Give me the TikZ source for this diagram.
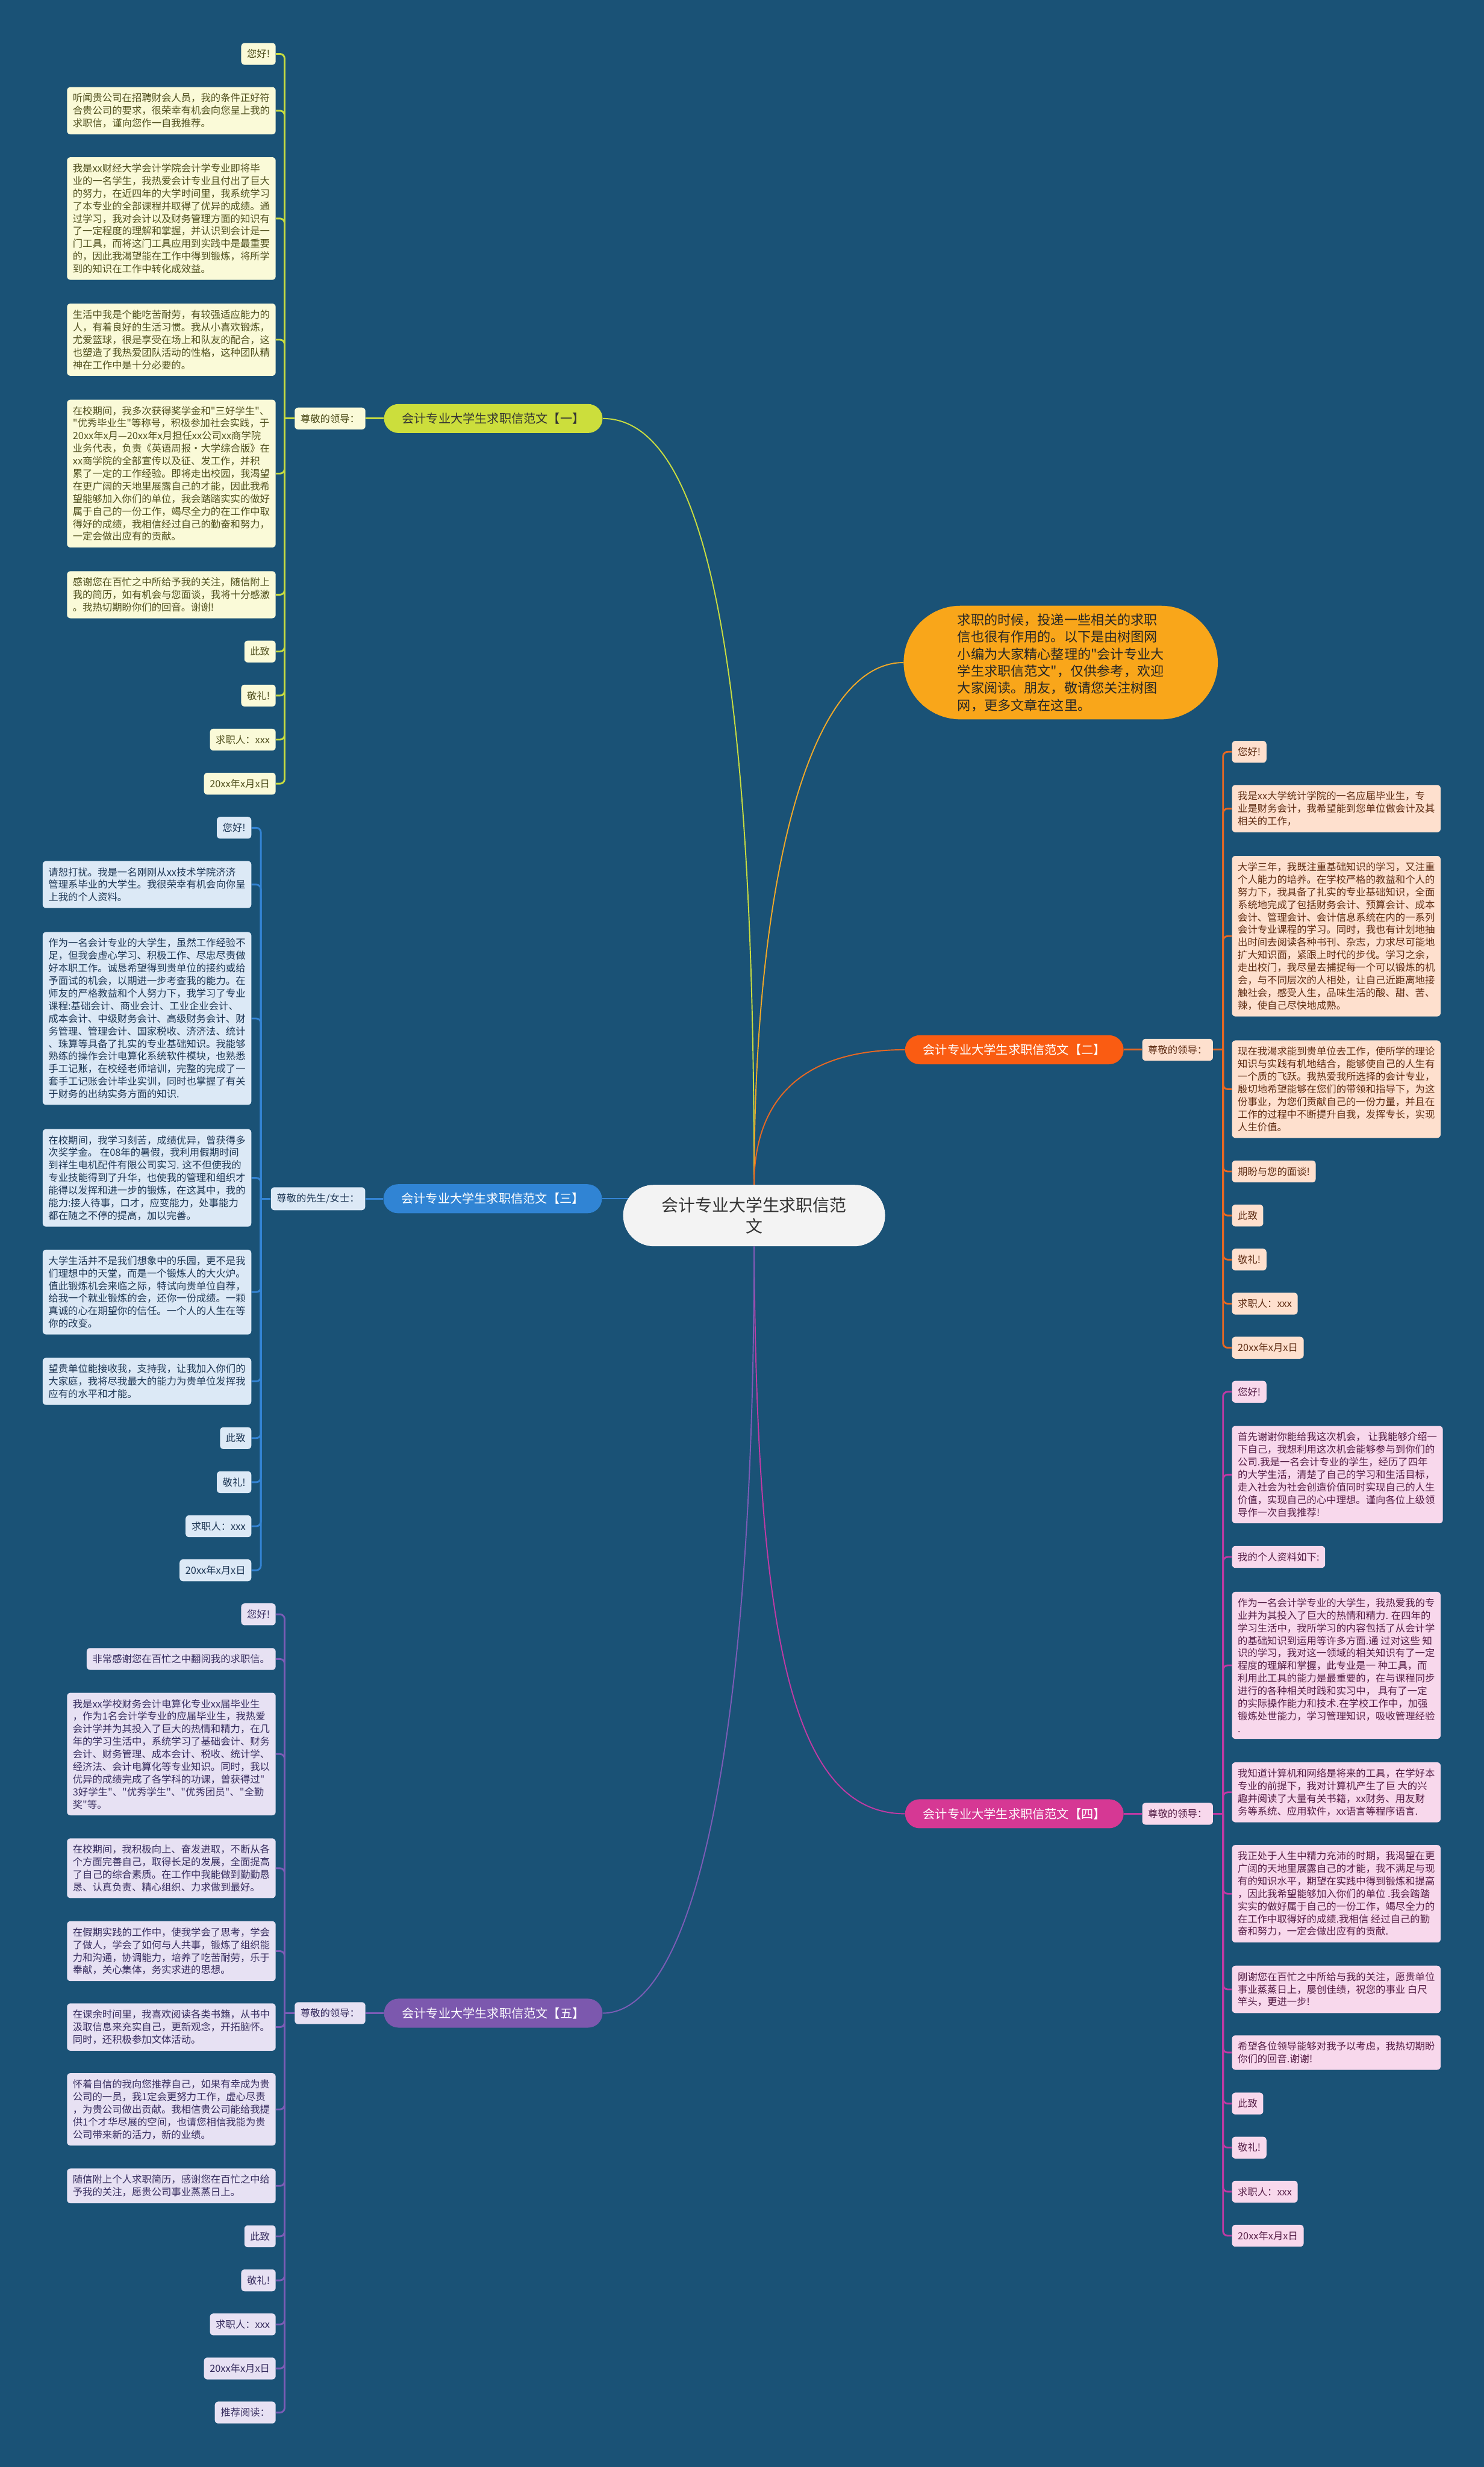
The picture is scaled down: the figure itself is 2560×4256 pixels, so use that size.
\documentclass[tikz,border=0pt]{standalone}
\usepackage{fontspec}
\setmainfont{Noto Sans CJK SC}[Ligatures=TeXOff]
\usetikzlibrary{backgrounds}
\definecolor{bgblue}{RGB}{26,82,118}
\definecolor{rootfill}{RGB}{243,243,243}
\definecolor{introfill}{RGB}{249,166,26}
\definecolor{brA}{RGB}{204,222,60}
\definecolor{brB}{RGB}{250,92,18}
\definecolor{brC}{RGB}{48,132,212}
\definecolor{brD}{RGB}{214,56,148}
\definecolor{brE}{RGB}{124,88,174}
\definecolor{fillA}{RGB}{250,250,216}
\definecolor{fillB}{RGB}{254,224,206}
\definecolor{fillC}{RGB}{220,233,246}
\definecolor{fillD}{RGB}{248,216,236}
\definecolor{fillE}{RGB}{231,225,243}
\definecolor{txtA}{RGB}{80,80,30}
\definecolor{txtB}{RGB}{95,45,20}
\definecolor{txtC}{RGB}{30,55,85}
\definecolor{txtD}{RGB}{85,30,70}
\definecolor{txtE}{RGB}{55,45,95}
\definecolor{lnA}{RGB}{200,220,64}
\definecolor{lnB}{RGB}{232,104,34}
\definecolor{lnC}{RGB}{52,132,212}
\definecolor{lnD}{RGB}{192,58,164}
\definecolor{lnE}{RGB}{124,92,182}
\definecolor{lnI}{RGB}{240,168,40}
\newcommand{\leaffont}{\fontsize{8.5pt}{10.85pt}\selectfont}
\newcommand{\branchfont}{\fontsize{10.5pt}{12pt}\selectfont}
\tikzstyle{leaf} = [rounded corners=3pt, inner xsep=5pt, inner ysep=5.5pt, align=left, font=\leaffont]
\tikzstyle{leafA} = [leaf, fill=fillA, text=txtA]
\tikzstyle{leafB} = [leaf, fill=fillB, text=txtB]
\tikzstyle{leafC} = [leaf, fill=fillC, text=txtC]
\tikzstyle{leafD} = [leaf, fill=fillD, text=txtD]
\tikzstyle{leafE} = [leaf, fill=fillE, text=txtE]
\tikzstyle{branch} = [rounded corners=12.5pt, minimum width=188.5pt, minimum height=25pt, inner xsep=10pt, font=\branchfont]
\tikzstyle{stub} = [line width=1.5pt, rounded corners=4pt]
\tikzstyle{curve} = [line width=1pt]

\begin{document}
\begin{tikzpicture}[x=0.5pt, y=-0.5pt]
\useasboundingbox (0,0) rectangle (2560,4256);

% centre and intro
\node[fill=rootfill, text=black!80, rounded corners=26.5pt, minimum width=226pt, minimum height=53pt, align=center, font=\fontsize{14.5pt}{18pt}\selectfont] (root) at (1301,2097) {会计专业大学生求职信范\\文};
\node[fill=introfill, text=black!85, rounded corners=49pt, minimum width=271pt, minimum height=98pt, align=left, font=\fontsize{11.5pt}{14.75pt}\selectfont] (intro) at (1830,1143) {求职的时候，投递一些相关的求职\\信也很有作用的。以下是由树图网\\小编为大家精心整理的"会计专业大\\学生求职信范文"，仅供参考，欢迎\\大家阅读。朋友，敬请您关注树图\\网，更多文章在这里。};

% branches
\node[branch, fill=brA, text=black!80] (br1) at (851,722) {会计专业大学生求职信范文【一】};
\node[branch, fill=brB, text=white] (br2) at (1750,1811) {会计专业大学生求职信范文【二】};
\node[branch, fill=brC, text=white] (br3) at (850,2068) {会计专业大学生求职信范文【三】};
\node[branch, fill=brD, text=white] (br4) at (1750,3129) {会计专业大学生求职信范文【四】};
\node[branch, fill=brE, text=white] (br5) at (851,3473) {会计专业大学生求职信范文【五】};

\node[leafA, anchor=west] (lead1) at (508,722) {尊敬的领导：};
\node[leafB, anchor=east] (lead2) at (2093,1811) {尊敬的领导：};
\node[leafC, anchor=west] (lead3) at (467,2068) {尊敬的先生/女士：};
\node[leafD, anchor=east] (lead4) at (2093,3129) {尊敬的领导：};
\node[leafE, anchor=west] (lead5) at (508,3473) {尊敬的领导：};

\coordinate (j1) at (491,722);
\coordinate (j2) at (2110,1811);
\coordinate (j3) at (450,2068);
\coordinate (j4) at (2110,3129);
\coordinate (j5) at (491,3473);

% letter one
\node[leafA, anchor=east] (a1) at (476,93) {您好!};
\node[leafA, anchor=east] (a2) at (476,191) {听闻贵公司在招聘财会人员，我的条件正好符\\合贵公司的要求，很荣幸有机会向您呈上我的\\求职信，谨向您作一自我推荐。};
\node[leafA, anchor=east] (a3) at (476,377) {我是xx财经大学会计学院会计学专业即将毕\\业的一名学生，我热爱会计专业且付出了巨大\\的努力，在近四年的大学时间里，我系统学习\\了本专业的全部课程并取得了优异的成绩。通\\过学习，我对会计以及财务管理方面的知识有\\了一定程度的理解和掌握，并认识到会计是一\\门工具，而将这门工具应用到实践中是最重要\\的，因此我渴望能在工作中得到锻炼，将所学\\到的知识在工作中转化成效益。};
\node[leafA, anchor=east] (a4) at (476,586) {生活中我是个能吃苦耐劳，有较强适应能力的\\人，有着良好的生活习惯。我从小喜欢锻炼，\\尤爱篮球，很是享受在场上和队友的配合，这\\也塑造了我热爱团队活动的性格，这种团队精\\神在工作中是十分必要的。};
\node[leafA, anchor=east] (a5) at (476,817) {在校期间，我多次获得奖学金和"三好学生"、\\"优秀毕业生"等称号，积极参加社会实践，于\\20xx年x月—20xx年x月担任xx公司xx商学院\\业务代表，负责《英语周报·大学综合版》在\\xx商学院的全部宣传以及征、发工作，并积\\累了一定的工作经验。即将走出校园，我渴望\\在更广阔的天地里展露自己的才能，因此我希\\望能够加入你们的单位，我会踏踏实实的做好\\属于自己的一份工作，竭尽全力的在工作中取\\得好的成绩，我相信经过自己的勤奋和努力，\\一定会做出应有的贡献。};
\node[leafA, anchor=east] (a6) at (476,1026) {感谢您在百忙之中所给予我的关注，随信附上\\我的简历，如有机会与您面谈，我将十分感激\\。我热切期盼你们的回音。谢谢!};
\node[leafA, anchor=east] (a7) at (476,1124) {此致};
\node[leafA, anchor=east] (a8) at (476,1200) {敬礼!};
\node[leafA, anchor=east] (a9) at (476,1276) {求职人：xxx};
\node[leafA, anchor=east] (a10) at (476,1352) {20xx年x月x日};

% letter two
\node[leafB, anchor=west] (b1) at (2125,1297) {您好!};
\node[leafB, anchor=west] (b2) at (2125,1395) {我是xx大学统计学院的一名应届毕业生，专\\业是财务会计，我希望能到您单位做会计及其\\相关的工作，};
\node[leafB, anchor=west] (b3) at (2125,1615) {大学三年，我既注重基础知识的学习，又注重\\个人能力的培养。在学校严格的教益和个人的\\努力下，我具备了扎实的专业基础知识，全面\\系统地完成了包括财务会计、预算会计、成本\\会计、管理会计、会计信息系统在内的一系列\\会计专业课程的学习。同时，我也有计划地抽\\出时间去阅读各种书刊、杂志，力求尽可能地\\扩大知识面，紧跟上时代的步伐。学习之余，\\走出校门，我尽量去捕捉每一个可以锻炼的机\\会，与不同层次的人相处，让自己近距离地接\\触社会，感受人生，品味生活的酸、甜、苦、\\辣，使自己尽快地成熟。};
\node[leafB, anchor=west] (b4) at (2125,1879) {现在我渴求能到贵单位去工作，使所学的理论\\知识与实践有机地结合，能够使自己的人生有\\一个质的飞跃。我热爱我所选择的会计专业，\\殷切地希望能够在您们的带领和指导下，为这\\份事业，为您们贡献自己的一份力量，并且在\\工作的过程中不断提升自我，发挥专长，实现\\人生价值。};
\node[leafB, anchor=west] (b5) at (2125,2021) {期盼与您的面谈!};
\node[leafB, anchor=west] (b6) at (2125,2097) {此致};
\node[leafB, anchor=west] (b7) at (2125,2173) {敬礼!};
\node[leafB, anchor=west] (b8) at (2125,2249) {求职人：xxx};
\node[leafB, anchor=west] (b9) at (2125,2325) {20xx年x月x日};

% letter three
\node[leafC, anchor=east] (c1) at (434,1428) {您好!};
\node[leafC, anchor=east] (c2) at (434,1526) {请恕打扰。我是一名刚刚从xx技术学院济济\\管理系毕业的大学生。我很荣幸有机会向你呈\\上我的个人资料。};
\node[leafC, anchor=east] (c3) at (434,1757) {作为一名会计专业的大学生，虽然工作经验不\\足，但我会虚心学习、积极工作、尽忠尽责做\\好本职工作。诚恳希望得到贵单位的接约或给\\予面试的机会，以期进一步考查我的能力。在\\师友的严格教益和个人努力下，我学习了专业\\课程:基础会计、商业会计、工业企业会计、\\成本会计、中级财务会计、高级财务会计、财\\务管理、管理会计、国家税收、济济法、统计\\、珠算等具备了扎实的专业基础知识。我能够\\熟练的操作会计电算化系统软件模块，也熟悉\\手工记账，在校经老师培训，完整的完成了一\\套手工记账会计毕业实训，同时也掌握了有关\\于财务的出纳实务方面的知识.};
\node[leafC, anchor=east] (c4) at (434,2032) {在校期间，我学习刻苦，成绩优异，曾获得多\\次奖学金。 在08年的暑假，我利用假期时间\\到祥生电机配件有限公司实习. 这不但使我的\\专业技能得到了升华，也使我的管理和组织才\\能得以发挥和进一步的锻炼，在这其中，我的\\能力:接人待事，口才，应变能力，处事能力\\都在随之不停的提高，加以完善。};
\node[leafC, anchor=east] (c5) at (434,2229) {大学生活并不是我们想象中的乐园，更不是我\\们理想中的天堂，而是一个锻炼人的大火炉。\\值此锻炼机会来临之际，特试向贵单位自荐，\\给我一个就业锻炼的会，还你一份成绩。一颗\\真诚的心在期望你的信任。一个人的人生在等\\你的改变。};
\node[leafC, anchor=east] (c6) at (434,2383) {望贵单位能接收我，支持我，让我加入你们的\\大家庭，我将尽我最大的能力为贵单位发挥我\\应有的水平和才能。};
\node[leafC, anchor=east] (c7) at (434,2481) {此致};
\node[leafC, anchor=east] (c8) at (434,2557) {敬礼!};
\node[leafC, anchor=east] (c9) at (434,2633) {求职人：xxx};
\node[leafC, anchor=east] (c10) at (434,2709) {20xx年x月x日};

% letter four
\node[leafD, anchor=west] (d1) at (2125,2401) {您好!};
\node[leafD, anchor=west] (d2) at (2125,2544) {首先谢谢你能给我这次机会， 让我能够介绍一\\下自己，我想利用这次机会能够参与到你们的\\公司.我是一名会计专业的学生，经历了四年\\的大学生活，清楚了自己的学习和生活目标，\\走入社会为社会创造价值同时实现自己的人生\\价值，实现自己的心中理想。谨向各位上级领\\导作一次自我推荐!};
\node[leafD, anchor=west] (d3) at (2125,2686) {我的个人资料如下:};
\node[leafD, anchor=west] (d4) at (2125,2873) {作为一名会计学专业的大学生，我热爱我的专\\业并为其投入了巨大的热情和精力. 在四年的\\学习生活中，我所学习的内容包括了从会计学\\的基础知识到运用等许多方面.通 过对这些 知\\识的学习，我对这一领域的相关知识有了一定\\程度的理解和掌握，此专业是一 种工具，而\\利用此工具的能力是最重要的，在与课程同步\\进行的各种相关时践和实习中， 具有了一定\\的实际操作能力和技术.在学校工作中，加强\\锻炼处世能力，学习管理知识，吸收管理经验\\.};
\node[leafD, anchor=west] (d5) at (2125,3092) {我知道计算机和网络是将来的工具，在学好本\\专业的前提下，我对计算机产生了巨 大的兴\\趣并阅读了大量有关书籍，xx财务、用友财\\务等系统、应用软件，xx语言等程序语言.};
\node[leafD, anchor=west] (d6) at (2125,3267) {我正处于人生中精力充沛的时期，我渴望在更\\广阔的天地里展露自己的才能，我不满足与现\\有的知识水平，期望在实践中得到锻炼和提高\\，因此我希望能够加入你们的单位 .我会踏踏\\实实的做好属于自己的一份工作，竭尽全力的\\在工作中取得好的成绩.我相信 经过自己的勤\\奋和努力，一定会做出应有的贡献.};
\node[leafD, anchor=west] (d7) at (2125,3432) {刚谢您在百忙之中所给与我的关注，愿贵单位\\事业蒸蒸日上，屡创佳绩，祝您的事业 白尺\\竿头，更进一步!};
\node[leafD, anchor=west] (d8) at (2125,3541) {希望各位领导能够对我予以考虑，我热切期盼\\你们的回音.谢谢!};
\node[leafD, anchor=west] (d9) at (2125,3629) {此致};
\node[leafD, anchor=west] (d10) at (2125,3705) {敬礼!};
\node[leafD, anchor=west] (d11) at (2125,3781) {求职人：xxx};
\node[leafD, anchor=west] (d12) at (2125,3857) {20xx年x月x日};

% letter five
\node[leafE, anchor=east] (e1) at (476,2785) {您好!};
\node[leafE, anchor=east] (e2) at (476,2862) {非常感谢您在百忙之中翻阅我的求职信。};
\node[leafE, anchor=east] (e3) at (476,3026) {我是xx学校财务会计电算化专业xx届毕业生\\，作为1名会计学专业的应届毕业生，我热爱\\会计学并为其投入了巨大的热情和精力，在几\\年的学习生活中，系统学习了基础会计、财务\\会计、财务管理、成本会计、税收、统计学、\\经济法、会计电算化等专业知识。同时，我以\\优异的成绩完成了各学科的功课，曾获得过"\\3好学生"、"优秀学生"、"优秀团员"、"全勤\\奖"等。};
\node[leafE, anchor=east] (e4) at (476,3223) {在校期间，我积极向上、奋发进取，不断从各\\个方面完善自己，取得长足的发展，全面提高\\了自己的综合素质。在工作中我能做到勤勤恳\\恳、认真负责、精心组织、力求做到最好。};
\node[leafE, anchor=east] (e5) at (476,3366) {在假期实践的工作中，使我学会了思考，学会\\了做人，学会了如何与人共事，锻炼了组织能\\力和沟通，协调能力，培养了吃苦耐劳，乐于\\奉献，关心集体，务实求进的思想。};
\node[leafE, anchor=east] (e6) at (476,3497) {在课余时间里，我喜欢阅读各类书籍，从书中\\汲取信息来充实自己，更新观念，开拓脑怀。\\同时，还积极参加文体活动。};
\node[leafE, anchor=east] (e7) at (476,3639) {怀着自信的我向您推荐自己，如果有幸成为贵\\公司的一员，我1定会更努力工作，虚心尽责\\，为贵公司做出贡献。我相信贵公司能给我提\\供1个才华尽展的空间，也请您相信我能为贵\\公司带来新的活力，新的业绩。};
\node[leafE, anchor=east] (e8) at (476,3771) {随信附上个人求职简历，感谢您在百忙之中给\\予我的关注，愿贵公司事业蒸蒸日上。};
\node[leafE, anchor=east] (e9) at (476,3858) {此致};
\node[leafE, anchor=east] (e10) at (476,3934) {敬礼!};
\node[leafE, anchor=east] (e11) at (476,4010) {求职人：xxx};
\node[leafE, anchor=east] (e12) at (476,4086) {20xx年x月x日};
\node[leafE, anchor=east] (e13) at (476,4162) {推荐阅读：};

\begin{pgfonlayer}{background}
\fill[bgblue] (0,0) rectangle (2560,4256);
% main curves
\draw[curve, lnA] (root.north) .. controls (1301,1200) and (1230,722) .. (br1.east);
\draw[curve, lnI] (root.north) .. controls (1301,1500) and (1400,1143) .. (intro.west);
\draw[curve, lnB] (root.north) .. controls (1301,1900) and (1380,1811) .. (br2.west);
\draw[curve, lnC] (br3.east) -- (root.center |- br3.east);
\draw[curve, lnD] (root.south) .. controls (1305,2800) and (1360,3129) .. (br4.west);
\draw[curve, lnE] (root.south) .. controls (1301,3000) and (1200,3473) .. (br5.east);
% salutations
\draw[stub, lnA] (br1.west) -- (lead1.east);
\draw[stub, lnB] (br2.east) -- (lead2.west);
\draw[stub, lnC] (br3.west) -- (lead3.east);
\draw[stub, lnD] (br4.east) -- (lead4.west);
\draw[stub, lnE] (br5.west) -- (lead5.east);
\draw[stub, lnA] (lead1.west) -- (j1);
\draw[stub, lnB] (lead2.east) -- (j2);
\draw[stub, lnC] (lead3.west) -- (j3);
\draw[stub, lnD] (lead4.east) -- (j4);
\draw[stub, lnE] (lead5.west) -- (j5);
% leaves
\foreach \n in {a1,a2,a3,a4,a5,a6,a7,a8,a9,a10}
  \draw[stub, lnA] (\n.east) -| (j1);
\foreach \n in {b1,b2,b3,b4,b5,b6,b7,b8,b9}
  \draw[stub, lnB] (\n.west) -| (j2);
\foreach \n in {c1,c2,c3,c4,c5,c6,c7,c8,c9,c10}
  \draw[stub, lnC] (\n.east) -| (j3);
\foreach \n in {d1,d2,d3,d4,d5,d6,d7,d8,d9,d10,d11,d12}
  \draw[stub, lnD] (\n.west) -| (j4);
\foreach \n in {e1,e2,e3,e4,e5,e6,e7,e8,e9,e10,e11,e12,e13}
  \draw[stub, lnE] (\n.east) -| (j5);
\end{pgfonlayer}
\end{tikzpicture}
\end{document}
